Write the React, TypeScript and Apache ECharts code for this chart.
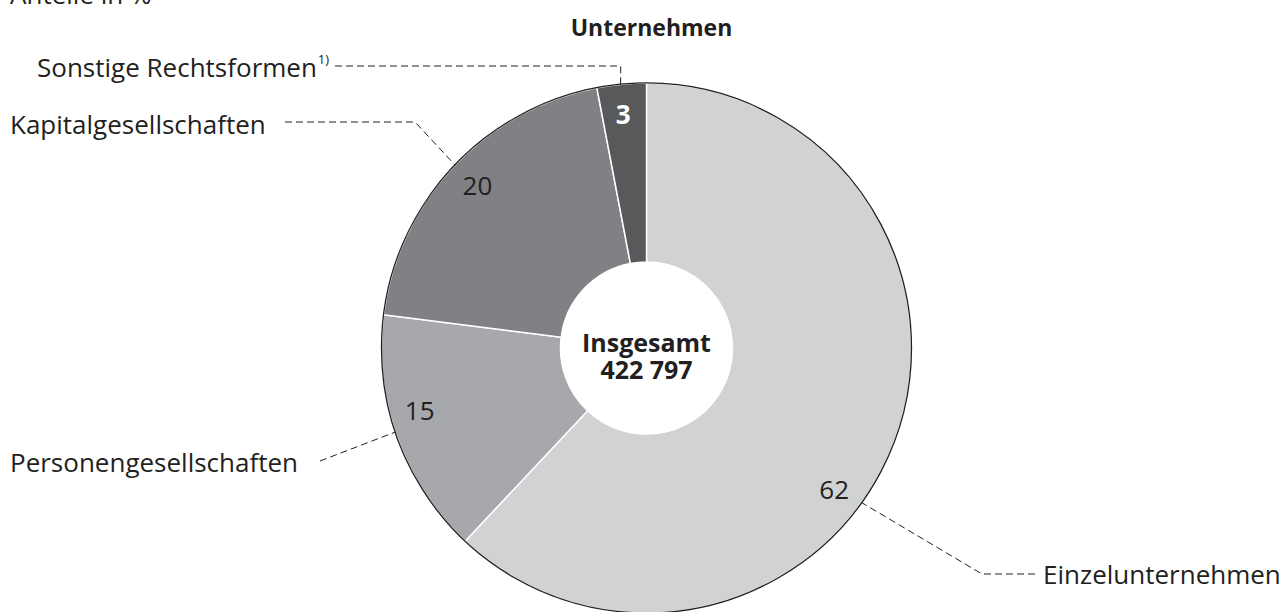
import React, { useEffect, useRef } from "react";
import * as echarts from "echarts";

// ---- data ----
const categories = ["Einzelunternehmen", "Personengesellschaften", "Kapitalgesellschaften", "Sonstige Rechtsformen"];
const shares = [62, 15, 20, 3];
const total = 422797;
const titleText = "Unternehmen";
const unitText = "Anteile in %";
const centerLabel = "Insgesamt";
const footnoteMark = "1)";

// ---- layout / style ----
const colors = ["#d1d2d4", "#a7a8ab", "#808184", "#58595b"];
const TXT = "#231f20";
const FONT = "'Open Sans', 'Liberation Sans', sans-serif";
const CX = 646.5;
const CY = 348;
const R = 265;
const RIN = 86;
const LR = 235; // radius of value labels
const valueLabelAngles = [127, 254.8, 314, 354.3]; // degrees clockwise from 12 o'clock
const anchorAngles = [125.7, 251.5, 313.7, 354.4];

const polar = (angDeg: number, r: number): [number, number] => {
  const a = (angDeg * Math.PI) / 180;
  return [CX + r * Math.sin(a), CY - r * Math.cos(a)];
};

const fmtThousands = (n: number) => String(n).replace(/\B(?=(\d{3})+(?!\d))/g, " ");

export default function App() {
  const ref = useRef<HTMLDivElement>(null);
  useEffect(() => {
    if (!ref.current) return;
    const chart = echarts.init(ref.current, undefined, { renderer: "svg" });

    const dash = { stroke: TXT, lineWidth: 1, lineDash: [7, 4], fill: "none" };
    const nameLabels: any[] = [
      // Einzelunternehmen
      { type: "text", x: 1043, y: 574, style: { text: categories[0], font: `26px ${FONT}`, fill: TXT, verticalAlign: "middle", align: "left" } },
      { type: "polyline", z: 20, shape: { points: [[1035, 574], [982, 574], polar(anchorAngles[0], R)] }, style: dash },
      // Personengesellschaften
      { type: "text", x: 10, y: 462, style: { text: categories[1], font: `26px ${FONT}`, fill: TXT, verticalAlign: "middle", align: "left" } },
      { type: "polyline", z: 20, shape: { points: [[320, 461], polar(anchorAngles[1], R)] }, style: dash },
      // Kapitalgesellschaften
      { type: "text", x: 10, y: 124, style: { text: categories[2], font: `26px ${FONT}`, fill: TXT, verticalAlign: "middle", align: "left" } },
      { type: "polyline", z: 20, shape: { points: [[285, 122], [415, 122], polar(anchorAngles[2], R)] }, style: dash },
      // Sonstige
      {
        type: "text", x: 37, y: 67,
        style: {
          text: `{n|${categories[3]}}{s|${footnoteMark}}`,
          fill: TXT, verticalAlign: "middle", align: "left",
          rich: {
            n: { fontFamily: FONT, fontSize: 26, fill: TXT, lineHeight: 30 },
            s: { fontFamily: FONT, fontSize: 13, fill: TXT, verticalAlign: "top", lineHeight: 30, padding: [0, 0, 0, 1] },
          },
        },
      },
      { type: "polyline", z: 20, shape: { points: [[335, 66], [620.7, 66], polar(anchorAngles[3], R)] }, style: dash },
    ];

    chart.setOption({
      animation: false,
      backgroundColor: "#ffffff",
      title: {
        text: titleText,
        left: CX,
        top: 10,
        textAlign: "center",
        textStyle: { fontFamily: FONT, fontSize: 23, fontWeight: "bold", color: TXT },
      },
      graphic: [
        { type: "text", x: 10, y: -6, style: { text: unitText, font: `26px ${FONT}`, fill: TXT, verticalAlign: "middle" } },
        { type: "circle", z: 10, shape: { cx: CX, cy: CY, r: R }, style: { fill: "none", stroke: TXT, lineWidth: 1.3 } },
        {
          type: "text", z: 10, x: CX, y: CY + 7,
          style: {
            text: `${centerLabel}\n${fmtThousands(total)}`,
            font: `bold 25px ${FONT}`, fill: TXT, align: "center", verticalAlign: "middle", lineHeight: 27,
          },
        },
        ...nameLabels,
      ],
      series: [
        {
          type: "pie",
          center: [CX, CY],
          radius: [RIN, R],
          startAngle: 90,
          clockwise: true,
          silent: true,
          itemStyle: { borderColor: "#ffffff", borderWidth: 1.5 },
          label: {
            show: true,
            position: "inside",
            formatter: "{c}",
            fontFamily: FONT,
            fontSize: 26,
            color: TXT,
          },
          labelLine: { show: false },
          labelLayout: (params: any) => {
            const [x, y] = polar(valueLabelAngles[params.dataIndex], LR);
            return { x, y, align: "center", verticalAlign: "middle" };
          },
          data: categories.map((name, i) => ({
            name,
            value: shares[i],
            itemStyle: { color: colors[i] },
            label: i === 3 ? { color: "#ffffff", fontWeight: "bold" } : {},
          })),
        },
      ],
    });
    return () => chart.dispose();
  }, []);
  return <div ref={ref} style={{ position: "fixed", left: 0, top: 0, width: 1287, height: 612 }} />;
}
